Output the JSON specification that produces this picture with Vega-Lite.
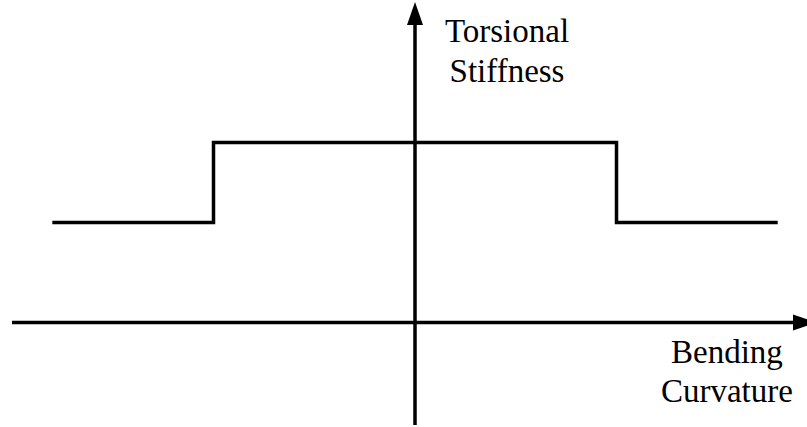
{
  "$schema": "https://vega.github.io/schema/vega-lite/v6.json",
  "width": 807,
  "height": 427,
  "padding": 0,
  "autosize": {"type": "none"},
  "background": "white",
  "config": {"view": {"stroke": null}},
  "layer": [
    {
      "data": {"values": [
        {"name": "bending axis", "x": -2.0, "x2": 1.88, "y": 0, "y2": 0},
        {"name": "torsion axis", "x": 0, "x2": 0, "y": -1.025, "y2": 2.98}
      ]},
      "mark": {"type": "rule", "color": "black", "strokeWidth": 3.5},
      "encoding": {
        "x": {"field": "x", "type": "quantitative", "scale": {"domain": [-2.0596, 1.9454], "nice": false, "zero": false}, "axis": null},
        "x2": {"field": "x2"},
        "y": {"field": "y", "type": "quantitative", "scale": {"domain": [-1.045, 3.225], "nice": false, "zero": false}, "axis": null},
        "y2": {"field": "y2"}
      }
    },
    {
      "data": {"values": [
        {"name": "up arrow", "x": 0, "y": 3.09, "shape": "M0,-1L0.696,1L-0.696,1Z"},
        {"name": "right arrow", "x": 1.933, "y": 0, "shape": "M1,0L-1,-0.696L-1,0.696Z"}
      ]},
      "mark": {"type": "point", "filled": true, "color": "black", "opacity": 1, "strokeWidth": 0},
      "encoding": {
        "x": {"field": "x", "type": "quantitative", "scale": {"domain": [-2.0596, 1.9454], "nice": false, "zero": false}, "axis": null},
        "y": {"field": "y", "type": "quantitative", "scale": {"domain": [-1.045, 3.225], "nice": false, "zero": false}, "axis": null},
        "shape": {"field": "shape", "type": "nominal", "scale": null, "legend": null},
        "size": {"value": 529}
      }
    },
    {
      "data": {"values": [
        {"i": 0, "curvature": -1.8, "stiffness": 1.0},
        {"i": 1, "curvature": -1.0, "stiffness": 1.0},
        {"i": 2, "curvature": -1.0, "stiffness": 1.8},
        {"i": 3, "curvature": 1.0, "stiffness": 1.8},
        {"i": 4, "curvature": 1.0, "stiffness": 1.0},
        {"i": 5, "curvature": 1.8, "stiffness": 1.0}
      ]},
      "mark": {"type": "line", "color": "black", "strokeWidth": 3.5, "strokeJoin": "miter"},
      "encoding": {
        "x": {"field": "curvature", "type": "quantitative", "scale": {"domain": [-2.0596, 1.9454], "nice": false, "zero": false}, "axis": null},
        "y": {"field": "stiffness", "type": "quantitative", "scale": {"domain": [-1.045, 3.225], "nice": false, "zero": false}, "axis": null},
        "order": {"field": "i", "type": "quantitative"}
      }
    },
    {
      "data": {"values": [
        {"label": "Torsional", "x": 0.4566, "y": 2.805},
        {"label": "Stiffness", "x": 0.4566, "y": 2.405},
        {"label": "Bending", "x": 1.548, "y": -0.405},
        {"label": "Curvature", "x": 1.548, "y": -0.795}
      ]},
      "mark": {"type": "text", "font": "Liberation Serif", "fontSize": 33, "align": "center", "baseline": "alphabetic", "color": "black"},
      "encoding": {
        "x": {"field": "x", "type": "quantitative", "scale": {"domain": [-2.0596, 1.9454], "nice": false, "zero": false}, "axis": null},
        "y": {"field": "y", "type": "quantitative", "scale": {"domain": [-1.045, 3.225], "nice": false, "zero": false}, "axis": null},
        "text": {"field": "label", "type": "nominal"}
      }
    }
  ]
}
